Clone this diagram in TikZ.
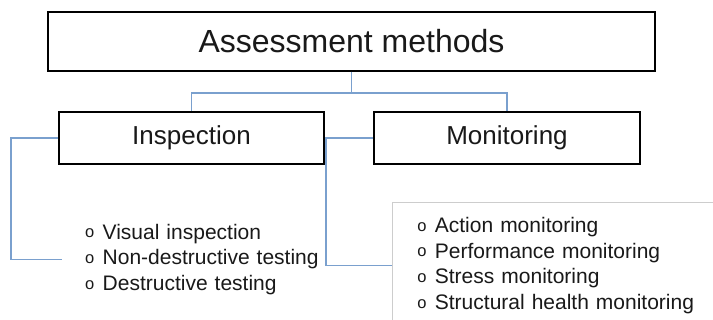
\documentclass[tikz,border=0pt]{standalone}
\usepackage{fontspec}
\setmainfont{Liberation Sans}
\usetikzlibrary{positioning}
\definecolor{linkblue}{RGB}{122,160,206}
\definecolor{listgray}{RGB}{205,205,205}
\definecolor{inkgray}{RGB}{25,25,25}
\newcommand{\lbul}{\strut\makebox[17.5pt][l]{\raisebox{1.2pt}{\fontsize{16.5}{16.5}\selectfont o}}}

\begin{document}
\begin{tikzpicture}[x=1pt,y=-1pt,
  box/.style={draw=black,line width=1.8pt,fill=white,inner sep=0pt,text=inkgray},
  link/.style={draw=linkblue,line width=1.4pt},
  items/.style={align=left,text=inkgray,font=\fontsize{21}{25.7}\selectfont,inner ysep=0pt}]
  \useasboundingbox (0,0) rectangle (713,320);
  \node[box,minimum width=607pt,minimum height=59pt,font=\fontsize{32}{32}\selectfont] (top) at (351.5,41.5) {Assessment methods};
  \node[box,minimum width=265pt,minimum height=52pt,font=\fontsize{26}{26}\selectfont] (insp) at (191.5,138) {Inspection};
  \node[box,minimum width=266pt,minimum height=52pt,font=\fontsize{26}{26}\selectfont] (moni) at (507,138) {Monitoring};
  \node[items,anchor=north west,inner xsep=23pt,text width=260pt] (ilist) at (62,221)
    {\lbul Visual inspection\\ \lbul Non-destructive testing\\ \lbul Destructive testing};
  \node[items,anchor=north west,draw=listgray,line width=.8pt,fill=white,inner xsep=25pt,inner ysep=12pt,text width=320pt] (mlist) at (392,202)
    {\lbul Action monitoring\\ \lbul Performance monitoring\\ \lbul Stress monitoring\\ \lbul Structural health monitoring};
  \draw[link] (top.south) -- ++(0,21) -| (insp.north);
  \draw[link] (top.south) -- ++(0,21) -| (moni.north);
  \draw[link] (insp.west) -- ++(-47,0) |- (ilist.west);
  \draw[link] (moni.west) -- ++(-47,0) |- (mlist.west);
\end{tikzpicture}
\end{document}
